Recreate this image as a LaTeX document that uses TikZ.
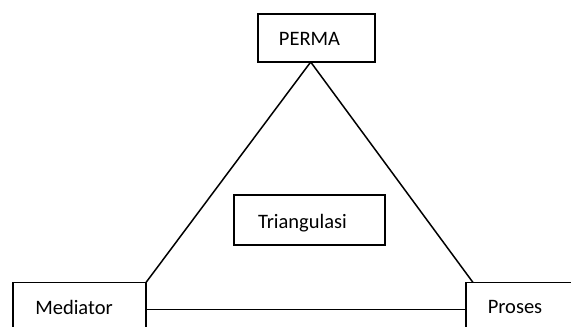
\documentclass[tikz,border=0pt]{standalone}
\usepackage{fontspec}
\setmainfont{Carlito}
\begin{document}
\begin{tikzpicture}[x=1pt,y=-1pt,
  boxshape/.style={draw=black, line width=1.8pt, fill=white, inner sep=0pt},
  lbl/.style={inner sep=0pt, font=\fontsize{20.5}{24}\selectfont},
  edge/.style={draw=black, line width=1.5pt}]
\useasboundingbox (0,0) rectangle (571,327);
\clip (0,0) rectangle (571,327);
\fill[white] (0,0) rectangle (571,327);
% connectors first
\coordinate (apex) at (310.7,62);
\coordinate (leftend) at (146,282.5);
\coordinate (rightend) at (473,282.5);
\coordinate (hl) at (146,309.3);
\coordinate (hr) at (466,309.3);
\draw[edge] (leftend) -- (apex) -- (rightend);
\draw[edge] (hl) -- (hr);
% boxes
\node[boxshape, minimum width=117pt, minimum height=48pt] (perma) at (316.5,38) {};
\node[lbl] (permaT) at (309.5,39) {PERMA};
\node[boxshape, minimum width=151pt, minimum height=50pt] (tri) at (309.5,220) {};
\node[lbl] (triT) at (302.5,223) {Triangulasi};
\node[boxshape, minimum width=133pt, minimum height=50pt] (med) at (79.5,307.5) {};
\node[lbl] (medT) at (74,307) {Mediator};
\node[boxshape, minimum width=133pt, minimum height=50pt] (pro) at (532.5,307.5) {};
\node[lbl] (proT) at (515,307) {Proses};
\end{tikzpicture}
\end{document}
